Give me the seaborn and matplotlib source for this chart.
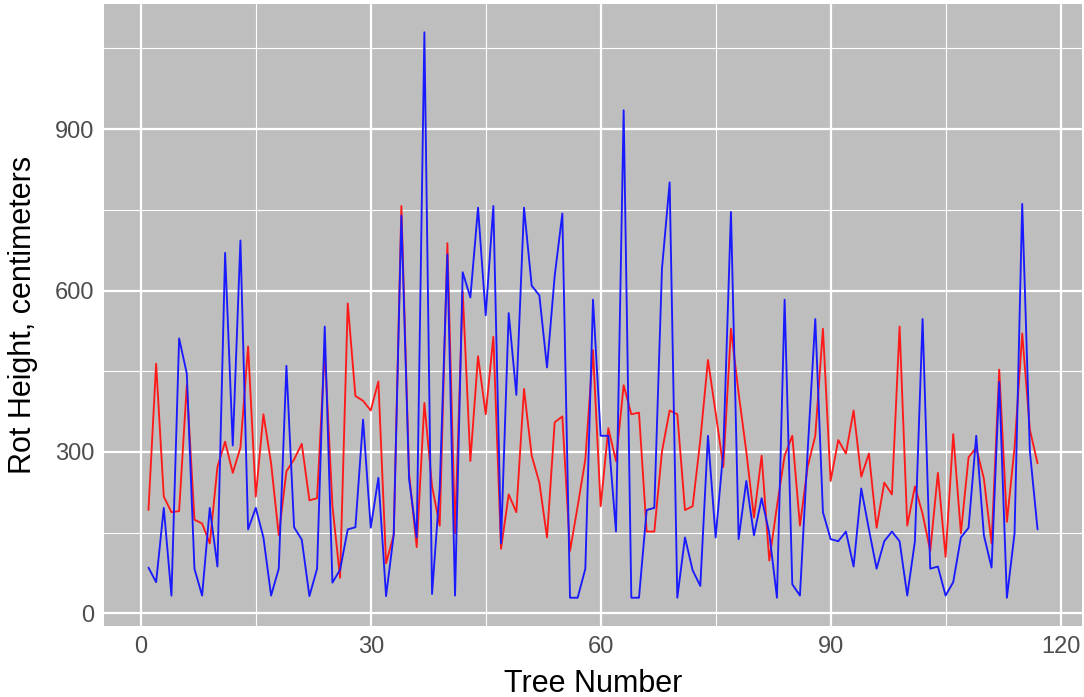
import numpy as np
import pandas as pd
import seaborn as sns
import matplotlib.pyplot as plt
from matplotlib.ticker import MultipleLocator

# rot heights per tree
tree = list(range(1, 118))

red_height = [
    192, 464, 217, 188, 190, 424, 174, 167, 130, 272,
    319, 261, 308, 496, 217, 370, 279, 145, 264, 286,
    315, 210, 214, 490, 200, 66, 576, 404, 395, 377,
    431, 93, 146, 757, 260, 123, 391, 236, 163, 688,
    149, 598, 283, 478, 370, 514, 120, 221, 188, 417,
    293, 243, 141, 355, 366, 116, 199, 286, 489, 199,
    344, 283, 424, 370, 373, 152, 152, 301, 377, 370,
    192, 199, 322, 471, 373, 272, 529, 409, 301, 178,
    293, 98, 199, 293, 330, 163, 272, 330, 529, 246,
    322, 297, 377, 254, 297, 159, 243, 221, 533, 163,
    236, 185, 116, 261, 105, 333, 149, 290, 308, 250,
    130, 453, 170, 308, 520, 341, 279,
]

blue_height = [
    85, 58, 196, 33, 511, 446, 83, 33, 196, 87,
    670, 312, 693, 156, 196, 141, 33, 83, 460, 160,
    137, 32, 83, 533, 57, 81, 156, 160, 360, 159,
    252, 32, 146, 739, 250, 141, 1080, 36, 232, 667,
    33, 634, 587, 754, 554, 757, 130, 558, 406, 754,
    609, 591, 457, 627, 743, 29, 29, 83, 583, 330,
    330, 152, 935, 29, 29, 192, 196, 641, 801, 29,
    141, 80, 51, 330, 141, 301, 746, 138, 246, 145,
    214, 149, 29, 583, 54, 33, 300, 547, 188, 138,
    134, 152, 87, 232, 156, 83, 134, 152, 134, 33,
    134, 547, 83, 87, 33, 58, 141, 159, 330, 145,
    85, 430, 29, 149, 761, 301, 156,
]

df = pd.DataFrame({
    "tree": tree * 2,
    "height": red_height + blue_height,
    "series": ["red"] * len(tree) + ["blue"] * len(tree),
})

sns.set_theme(style="whitegrid")
plt.rcParams["font.family"] = ["Liberation Sans", "DejaVu Sans"]

fig, ax = plt.subplots(figsize=(10.84, 6.97), dpi=100)
fig.subplots_adjust(left=104 / 1084, right=1082 / 1084,
                    bottom=1 - 626 / 697, top=1 - 4 / 697)

ax.set_facecolor("#bebebe")
ax.set_axisbelow(True)

sns.lineplot(data=df, x="tree", y="height", hue="series",
             palette={"red": "#ff1a1a", "blue": "#1a1aff"},
             linewidth=1.35, legend=False, ax=ax)

# ggplot style expansion of the data range
xmin, xmax = df["tree"].min(), df["tree"].max()
ymin, ymax = df["height"].min(), df["height"].max()
xpad = (xmax - xmin) * 0.05
ypad = (ymax - ymin) * 0.05
ax.set_xlim(xmin - xpad, xmax + xpad)
ax.set_ylim(ymin - ypad, ymax + ypad)

ax.xaxis.set_major_locator(MultipleLocator(30))
ax.xaxis.set_minor_locator(MultipleLocator(15))
ax.yaxis.set_major_locator(MultipleLocator(300))
ax.yaxis.set_minor_locator(MultipleLocator(150))

ax.grid(which="major", color="white", linewidth=1.6)
ax.grid(which="minor", color="white", linewidth=0.8)

for s in ax.spines.values():
    s.set_visible(False)

ax.tick_params(which="major", length=4, width=1.1, color="#333333",
               labelsize=17, labelcolor="#4d4d4d", pad=3)
ax.tick_params(which="minor", length=0)

ax.set_xlabel("Tree Number", fontsize=22, color="black", labelpad=8)
ax.set_ylabel("Rot Height, centimeters", fontsize=22, color="black", labelpad=12)

fig.savefig("out.png", dpi=100)
